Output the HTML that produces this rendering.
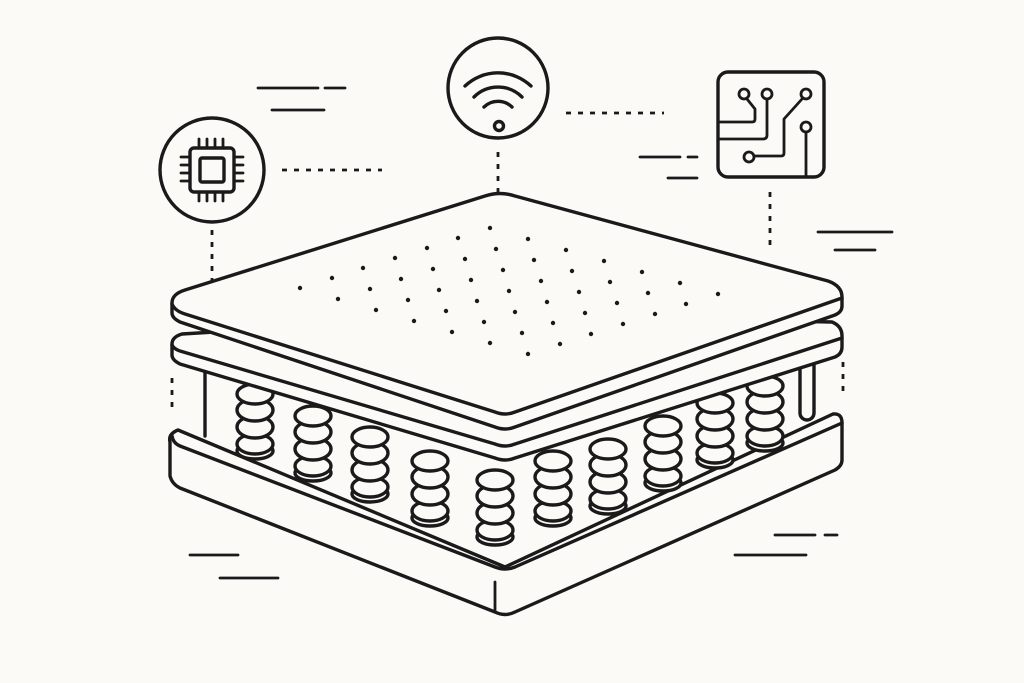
<!DOCTYPE html>
<html><head><meta charset="utf-8"><style>html,body{margin:0;padding:0;background:#fbfaf7}svg{display:block}</style></head>
<body>
<svg width="1024" height="683" viewBox="0 0 1024 683" xmlns="http://www.w3.org/2000/svg" fill="none" stroke="#1a1a1a" stroke-width="3.4" stroke-linecap="round" stroke-linejoin="round">
<rect width="1024" height="683" fill="#fbfaf7" stroke="none"/>
<g stroke-width="2.8">
<path d="M258 88H318M325 88H345M272 110H324M640 157H680M688 157H697M668 178H697M818 232H892M835 250H875M190 555H238M220 578H278M775 535H815M825 535H837M735 555H806"/>
</g>
<g stroke-dasharray="5 7" stroke-width="2.8" stroke-linecap="butt">
<path d="M282 170H382M212 230V288M498 152V192M566 113H664M770 192V250M843 362V398M172 378V412"/>
</g>
<circle cx="212" cy="170" r="52" fill="#fbfaf7"/>
<rect x="190" y="148" width="44" height="44" rx="4"/>
<rect x="200" y="158" width="24" height="24" rx="2"/>
<path d="M199 148v-9M207 148v-9M215 148v-9M223 148v-9M199 192v9M207 192v9M215 192v9M223 192v9M190 157h-9M190 165h-9M190 173h-9M190 181h-9M234 157h9M234 165h9M234 173h9M234 181h9" stroke-width="2.8"/>
<circle cx="498" cy="88" r="50" fill="#fbfaf7"/>
<path d="M465 86a48 48 0 0 1 66 0M474 97a34 34 0 0 1 48 0M484 107a20 20 0 0 1 28 0"/>
<circle cx="499" cy="126" r="4.5"/>
<rect x="718" y="72" width="106" height="105" rx="10" fill="#fbfaf7"/>
<g stroke-width="2.8">
<circle cx="744" cy="94" r="5"/><circle cx="767" cy="94" r="5"/><circle cx="806" cy="94" r="5"/><circle cx="806" cy="127" r="5"/><circle cx="749" cy="157" r="5"/>
<path d="M747 99l8 10v10q0 3-3 3H719M767 99v36q0 4-4 4H719M802 99l-18 20v34q0 3-3 3H754M806 132V177"/>
</g>
<path d="M178 430Q168 434 170 442L170 476Q172 484 180 488L495 612Q505 617 515 612L835 470Q842 466 842 460L842 423Q842 413 833 414L505 567L178 430Z" fill="#fbfaf7"/>
<path d="M172 436Q173 443 180 446L495 567Q505 571 515 567L842 423" />
<path d="M495 582V612" stroke-width="2.8"/>
<path d="M205 370V436"/>
<rect x="800" y="350" width="14" height="70" rx="7" fill="#fbfaf7"/>
<defs>
<g id="sp">
<ellipse cx="0" cy="63" rx="18" ry="8" fill="#fbfaf7"/>
<ellipse cx="0" cy="56" rx="18" ry="10" fill="#fbfaf7"/>
<ellipse cx="0" cy="39" rx="18" ry="11" fill="#fbfaf7"/>
<ellipse cx="0" cy="22" rx="18" ry="11" fill="#fbfaf7"/>
<ellipse cx="0" cy="6" rx="18" ry="10" fill="#fbfaf7"/>
</g>
</defs>
<g>
<use href="#sp" x="765" y="380"/>
<use href="#sp" x="715" y="397"/>
<use href="#sp" x="663" y="420"/>
<use href="#sp" x="608" y="443"/>
<use href="#sp" x="553" y="455"/>
<use href="#sp" x="255" y="388"/>
<use href="#sp" x="313" y="410"/>
<use href="#sp" x="370" y="431"/>
<use href="#sp" x="430" y="455"/>
<use href="#sp" x="495" y="474"/>
</g>
<path d="M182 334L495 315L832 322Q842 326 842 336L842 347Q842 354 835 357L515 458Q505 462 495 458L180 364Q172 360 172 355L172 344Q172 337 182 334Z" fill="#fbfaf7"/>
<path d="M172 345Q174 349 180 351L495 444Q505 448 515 444L842 338" fill="none"/>
<path d="M185 290L485 196Q500 191 515 196L828 281Q842 286 842 297L842 306Q842 312 835 315L515 427Q505 431 495 427L180 322Q172 318 172 313L172 303Q172 294 185 290Z" fill="#fbfaf7"/>
<path d="M172 304Q175 311 185 314L495 412Q505 416 515 412L842 298" fill="none"/>
<g fill="#1a1a1a" stroke="none">
<circle cx="490" cy="228" r="2.2"/><circle cx="528" cy="239" r="2.2"/><circle cx="566" cy="250" r="2.2"/><circle cx="604" cy="261" r="2.2"/><circle cx="642" cy="272" r="2.2"/><circle cx="680" cy="283" r="2.2"/><circle cx="718" cy="294" r="2.2"/>
<circle cx="458" cy="238" r="2.2"/><circle cx="496" cy="249" r="2.2"/><circle cx="534" cy="260" r="2.2"/><circle cx="572" cy="271" r="2.2"/><circle cx="610" cy="282" r="2.2"/><circle cx="648" cy="293" r="2.2"/><circle cx="686" cy="304" r="2.2"/>
<circle cx="427" cy="248" r="2.2"/><circle cx="465" cy="259" r="2.2"/><circle cx="503" cy="270" r="2.2"/><circle cx="541" cy="281" r="2.2"/><circle cx="579" cy="292" r="2.2"/><circle cx="617" cy="303" r="2.2"/><circle cx="655" cy="314" r="2.2"/>
<circle cx="395" cy="258" r="2.2"/><circle cx="433" cy="269" r="2.2"/><circle cx="471" cy="280" r="2.2"/><circle cx="509" cy="291" r="2.2"/><circle cx="547" cy="302" r="2.2"/><circle cx="585" cy="313" r="2.2"/><circle cx="623" cy="324" r="2.2"/>
<circle cx="363" cy="268" r="2.2"/><circle cx="401" cy="279" r="2.2"/><circle cx="439" cy="290" r="2.2"/><circle cx="477" cy="301" r="2.2"/><circle cx="515" cy="312" r="2.2"/><circle cx="553" cy="323" r="2.2"/><circle cx="591" cy="334" r="2.2"/>
<circle cx="332" cy="278" r="2.2"/><circle cx="370" cy="289" r="2.2"/><circle cx="408" cy="300" r="2.2"/><circle cx="446" cy="311" r="2.2"/><circle cx="484" cy="322" r="2.2"/><circle cx="522" cy="333" r="2.2"/><circle cx="560" cy="344" r="2.2"/>
<circle cx="300" cy="288" r="2.2"/><circle cx="338" cy="299" r="2.2"/><circle cx="376" cy="310" r="2.2"/><circle cx="414" cy="321" r="2.2"/><circle cx="452" cy="332" r="2.2"/><circle cx="490" cy="343" r="2.2"/><circle cx="528" cy="354" r="2.2"/>
</g>
</svg>
</body></html>
